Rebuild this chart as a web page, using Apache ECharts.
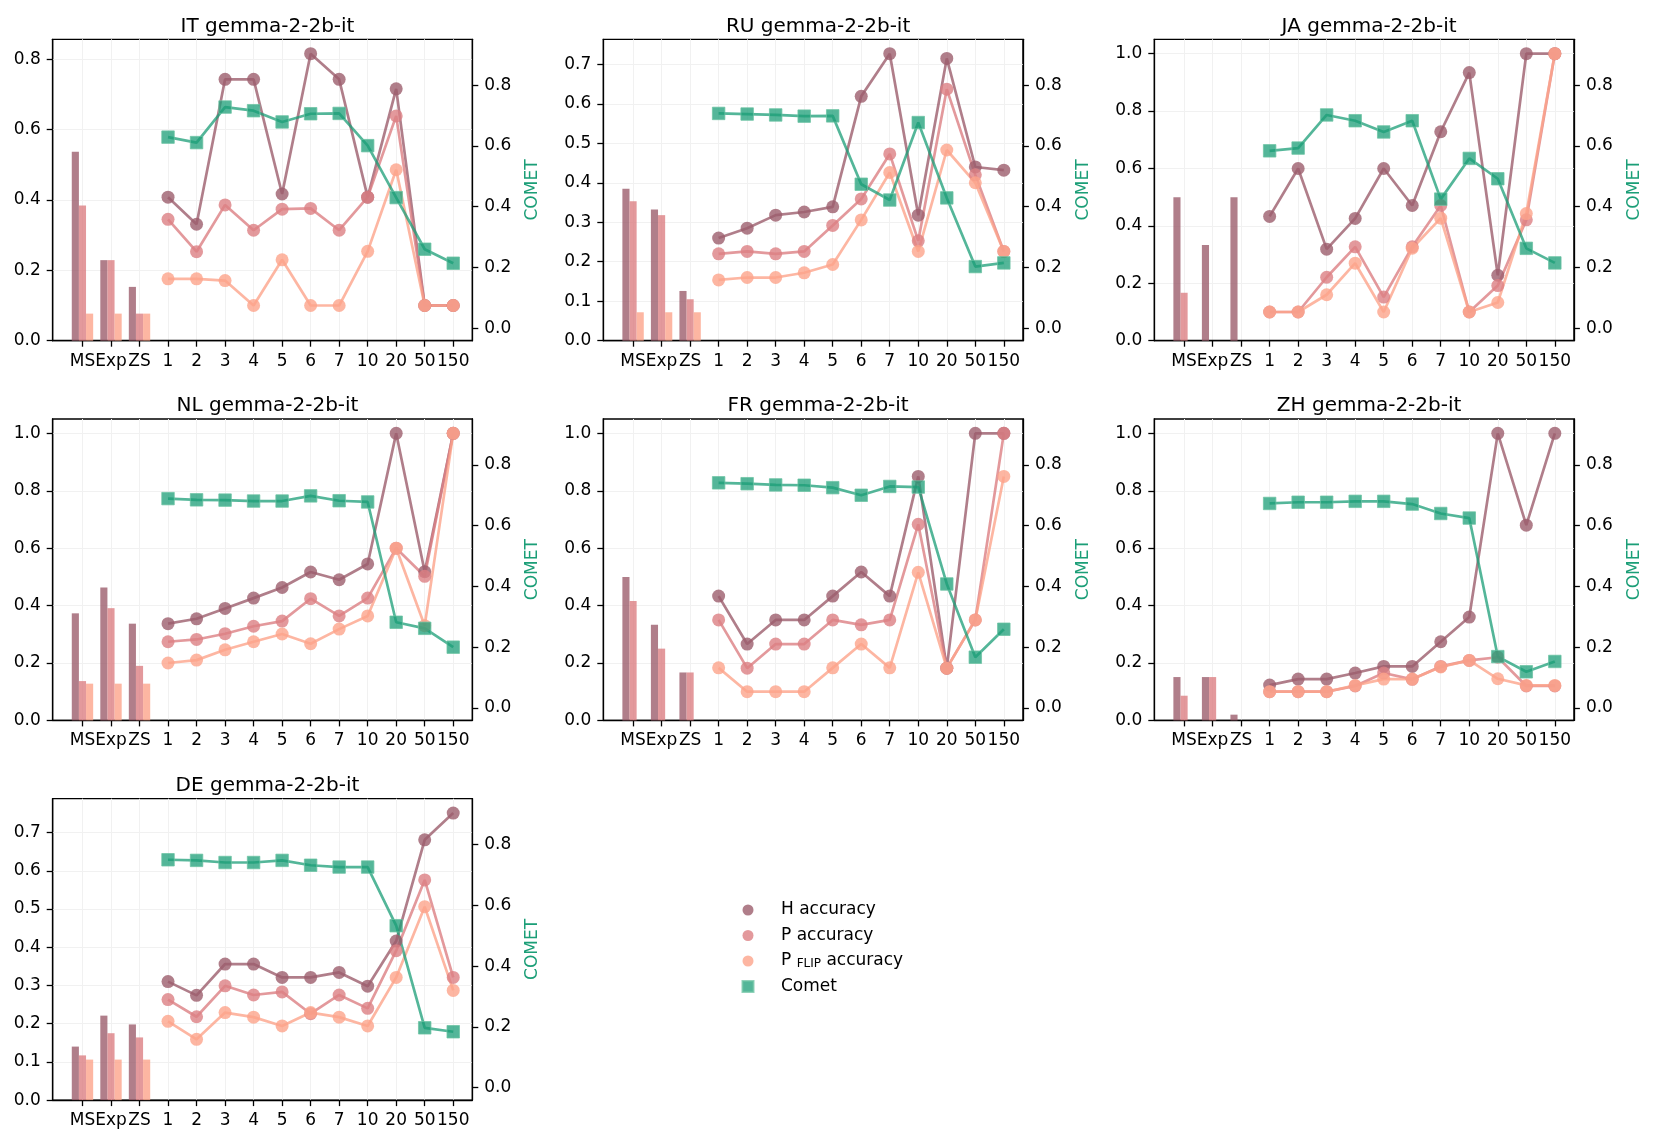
<!DOCTYPE html>
<html><head><meta charset="utf-8">
<script src="https://cdn.jsdelivr.net/npm/echarts@6/dist/echarts.min.js"></script>
<style>html,body{margin:0;padding:0;background:#fff}#c{width:1660px;height:1143px}</style>
</head><body><div id="c"></div>
<script>
// ---------- data ----------
const categories = ['MS','Exp','ZS','1','2','3','4','5','6','7','10','20','50','150'];
const languages = ['IT','RU','JA','NL','FR','ZH','DE'];

const itH = [0.537,0.229,0.153,0.408,0.331,0.743,0.743,0.417,0.816,0.743,0.408,0.716,0.1,0.1];
const itP = [0.384,0.229,0.077,0.345,0.253,0.386,0.314,0.374,0.376,0.314,0.408,0.639,0.1,0.1];
const itF = [0.077,0.077,0.077,0.176,0.176,0.171,0.1,0.23,0.1,0.1,0.254,0.486,0.1,0.1];
const itC = [null,null,null,0.629,0.611,0.728,0.716,0.679,0.706,0.707,0.601,0.430,0.26,0.214];

const ruH = [0.385,0.332,0.126,0.26,0.285,0.318,0.326,0.339,0.619,0.727,0.318,0.715,0.44,0.432];
const ruP = [0.353,0.318,0.105,0.22,0.226,0.22,0.226,0.292,0.359,0.473,0.253,0.637,0.42,0.226];
const ruF = [0.072,0.072,0.072,0.154,0.16,0.16,0.172,0.193,0.306,0.426,0.226,0.483,0.4,0.226];
const ruC = [null,null,null,0.707,0.705,0.702,0.698,0.699,0.474,0.422,0.677,0.429,0.203,0.215];

const jaH = [0.5,0.333,0.5,0.433,0.6,0.319,0.426,0.6,0.471,0.728,0.934,0.228,1.0,1.0];
const jaP = [0.167,0,0,0.1,0.1,0.221,0.327,0.152,0.327,0.471,0.1,0.192,0.421,1.0];
const jaF = [0,0,0,0.1,0.1,0.16,0.27,0.1,0.322,0.427,0.1,0.133,0.443,1.0];
const jaC = [null,null,null,0.584,0.593,0.702,0.683,0.646,0.683,0.425,0.559,0.492,0.263,0.215];

const nlH = [0.373,0.463,0.337,0.337,0.354,0.39,0.426,0.463,0.517,0.49,0.545,1.0,0.518,1.0];
const nlP = [0.137,0.391,0.19,0.274,0.282,0.302,0.328,0.346,0.424,0.364,0.426,0.6,0.502,1.0];
const nlF = [0.128,0.128,0.128,0.2,0.21,0.246,0.274,0.301,0.267,0.318,0.364,0.6,0.33,1.0];
const nlC = [null,null,null,0.689,0.685,0.684,0.681,0.681,0.698,0.682,0.678,0.282,0.262,0.2];

const frH = [0.5,0.333,0.167,0.433,0.266,0.35,0.35,0.433,0.517,0.433,0.85,0.182,1.0,1.0];
const frP = [0.416,0.25,0.167,0.35,0.182,0.266,0.266,0.35,0.333,0.35,0.683,0.182,0.35,1.0];
const frF = [0,0,0,0.183,0.1,0.1,0.1,0.183,0.266,0.183,0.516,0.182,0.35,0.85];
const frC = [null,null,null,0.741,0.738,0.734,0.733,0.725,0.7,0.729,0.727,0.408,0.167,0.259];

const zhH = [0.151,0.151,0.02,0.123,0.144,0.144,0.165,0.188,0.188,0.274,0.36,1.0,0.68,1.0];
const zhP = [0.086,0.151,0,0.1,0.1,0.1,0.12,0.165,0.143,0.188,0.209,0.22,0.12,0.12];
const zhF = [0,0,0,0.1,0.1,0.1,0.122,0.144,0.144,0.186,0.209,0.145,0.122,0.122];
const zhC = [null,null,null,0.673,0.677,0.677,0.68,0.68,0.671,0.64,0.625,0.169,0.119,0.153];

const deH = [0.14,0.221,0.198,0.31,0.274,0.356,0.356,0.321,0.321,0.334,0.298,0.416,0.681,0.751];
const deP = [0.117,0.175,0.164,0.263,0.218,0.299,0.275,0.283,0.226,0.275,0.24,0.391,0.576,0.321];
const deF = [0.106,0.106,0.106,0.206,0.159,0.229,0.217,0.194,0.229,0.217,0.194,0.321,0.506,0.287];
const deC = [null,null,null,0.75,0.748,0.741,0.741,0.748,0.732,0.726,0.726,0.533,0.197,0.184];

const leftTickLabels = [
  [0,0.2,0.4,0.6,0.8],
  [0,0.1,0.2,0.3,0.4,0.5,0.6,0.7],
  [0,0.2,0.4,0.6,0.8,1.0],
  [0,0.2,0.4,0.6,0.8,1.0],
  [0,0.2,0.4,0.6,0.8,1.0],
  [0,0.2,0.4,0.6,0.8,1.0],
  [0,0.1,0.2,0.3,0.4,0.5,0.6,0.7]
];
const rightTickLabels = [0,0.2,0.4,0.6,0.8];

const panelH = [itH,ruH,jaH,nlH,frH,zhH,deH];
const panelP = [itP,ruP,jaP,nlP,frP,zhP,deP];
const panelF = [itF,ruF,jaF,nlF,frF,zhF,deF];
const panelC = [itC,ruC,jaC,nlC,frC,zhC,deC];

// ---------- style / layout ----------
const FONT = 'DejaVu Sans';
const colH = '#9c5e6d', colP = '#dc7f83', colF = '#fca48b', colC = '#1b9e77';
const colLeft = [52.7, 603.3, 1154.3];
const rowTop = [39.3, 419, 798.7];
const GW = 419.6, GH = 301.4;
const XMIN = -1.044, XMAX = 13.669;
const RMIN = -0.041, RMAX = 0.951;
const xTicks = categories.map((c,i)=>i);

const grids=[], xAxes=[], yAxes=[], series=[], titles=[];

function barRender(offset){
  return function(params, api){
    const x = api.value(0), y = api.value(1);
    const p0 = api.coord([x + offset - 0.125, y]);
    const p1 = api.coord([x + offset + 0.125, 0]);
    return {type:'rect', shape:{x:p0[0], y:p0[1], width:p1[0]-p0[0], height:p1[1]-p0[1]},
            style:{fill: api.visual('color'), opacity:0.8}};
  };
}

const tickStyle = {show:true, length:6, lineStyle:{color:'#000', width:1.3}};
const axisLineStyle = {show:true, onZero:false, lineStyle:{color:'#000', width:1.3}};
const labelStyle = {fontSize:17, color:'#000', fontFamily:FONT, margin:12};
const gridLine = {show:true, lineStyle:{color:'#f1f1f1', width:1}};

languages.forEach((lang, i) => {
  const col = i % 3, row = Math.floor(i/3);
  const left = colLeft[col], top = rowTop[row];
  grids.push({left:left, top:top, width:GW, height:GH, show:true, borderColor:'#000', borderWidth:1.3, backgroundColor:'transparent'});
  const allVals = panelH[i].concat(panelP[i], panelF[i]);
  const ymax = Math.max.apply(null, allVals) * 1.05;
  xAxes.push({gridIndex:i, type:'value', min:XMIN, max:XMAX, position:'bottom',
    axisLine:axisLineStyle, axisTick:Object.assign({customValues:xTicks}, tickStyle),
    axisLabel:Object.assign({customValues:xTicks, formatter:(v)=>categories[Math.round(v)]}, labelStyle),
    splitLine:gridLine});
  yAxes.push({gridIndex:i, type:'value', position:'left', min:0, max:ymax,
    axisLine:axisLineStyle, axisTick:Object.assign({customValues:leftTickLabels[i]}, tickStyle),
    axisLabel:Object.assign({customValues:leftTickLabels[i], formatter:(v)=>v.toFixed(1)}, labelStyle),
    splitLine:gridLine});
  yAxes.push({gridIndex:i, type:'value', position:'right', min:RMIN, max:RMAX,
    name:'COMET', nameLocation:'middle', nameRotate:90, nameGap:52,
    nameTextStyle:{color:colC, fontSize:17, fontFamily:FONT},
    axisLine:axisLineStyle, axisTick:Object.assign({customValues:rightTickLabels}, tickStyle),
    axisLabel:Object.assign({customValues:rightTickLabels, formatter:(v)=>v.toFixed(1)}, labelStyle),
    splitLine:{show:false}});
  titles.push({text: lang + ' gemma-2-2b-it', left:left + GW/2, top: top - 28, textAlign:'center',
    textStyle:{fontSize:20, fontWeight:'normal', color:'#000', fontFamily:FONT}});

  const sets = [[panelH[i], colH, 'H accuracy', -0.25], [panelP[i], colP, 'P accuracy', 0], [panelF[i], colF, 'PFLIP accuracy', 0.25]];
  sets.forEach(([arr, color, name, off]) => {
    series.push({type:'custom', name: name + ' bars', xAxisIndex:i, yAxisIndex:2*i,
      renderItem: barRender(off), itemStyle:{color:color},
      encode:{x:0, y:1}, data: [0,1,2].map(k => [k, arr[k]]), silent:true});
  });
  sets.forEach(([arr, color, name]) => {
    const d = [];
    for (let k = 3; k < categories.length; k++) d.push([k, arr[k]]);
    series.push({type:'line', name:name, xAxisIndex:i, yAxisIndex:2*i, data:d,
      symbol:'circle', symbolSize:13, showSymbol:true,
      lineStyle:{color:color, width:2.7, opacity:0.8},
      itemStyle:{color:color, opacity:0.8}, emphasis:{disabled:true}});
  });
  const dc = [];
  for (let k = 3; k < categories.length; k++) dc.push([k, panelC[i][k]]);
  series.push({type:'line', name:'Comet', xAxisIndex:i, yAxisIndex:2*i+1, data:dc,
    symbol:'rect', symbolSize:12.5, showSymbol:true,
    lineStyle:{color:colC, width:2.7, opacity:0.75},
    itemStyle:{color:colC, opacity:0.75, borderColor:'#6cc3a3', borderWidth:1}, emphasis:{disabled:true}});
});

const option = {
  backgroundColor:'#fff',
  animation:false,
  textStyle:{fontFamily:FONT},
  title: titles,
  grid: grids,
  xAxis: xAxes,
  yAxis: yAxes,
  legend: {
    orient:'vertical', left:741.5, top:901.5, padding:0, itemGap:8.5,
    itemWidth:11, itemHeight:11,
    data:[{name:'H accuracy', icon:'circle'},{name:'P accuracy', icon:'circle'},
          {name:'PFLIP accuracy', icon:'circle'},{name:'Comet', icon:'rect'}],
    formatter:(n)=> n === 'PFLIP accuracy' ? 'P {sub|FLIP} accuracy' : n,
    textStyle:{fontSize:17, color:'#000', fontFamily:FONT, lineHeight:17, padding:[0,0,0,22.5],
      rich:{sub:{fontSize:12, fontFamily:FONT, color:'#000', verticalAlign:'bottom', lineHeight:17, padding:[5,0,0,0]}}}
  },
  series: series
};
const chart = echarts.init(document.getElementById('c'));
chart.setOption(option);
</script></body></html>
